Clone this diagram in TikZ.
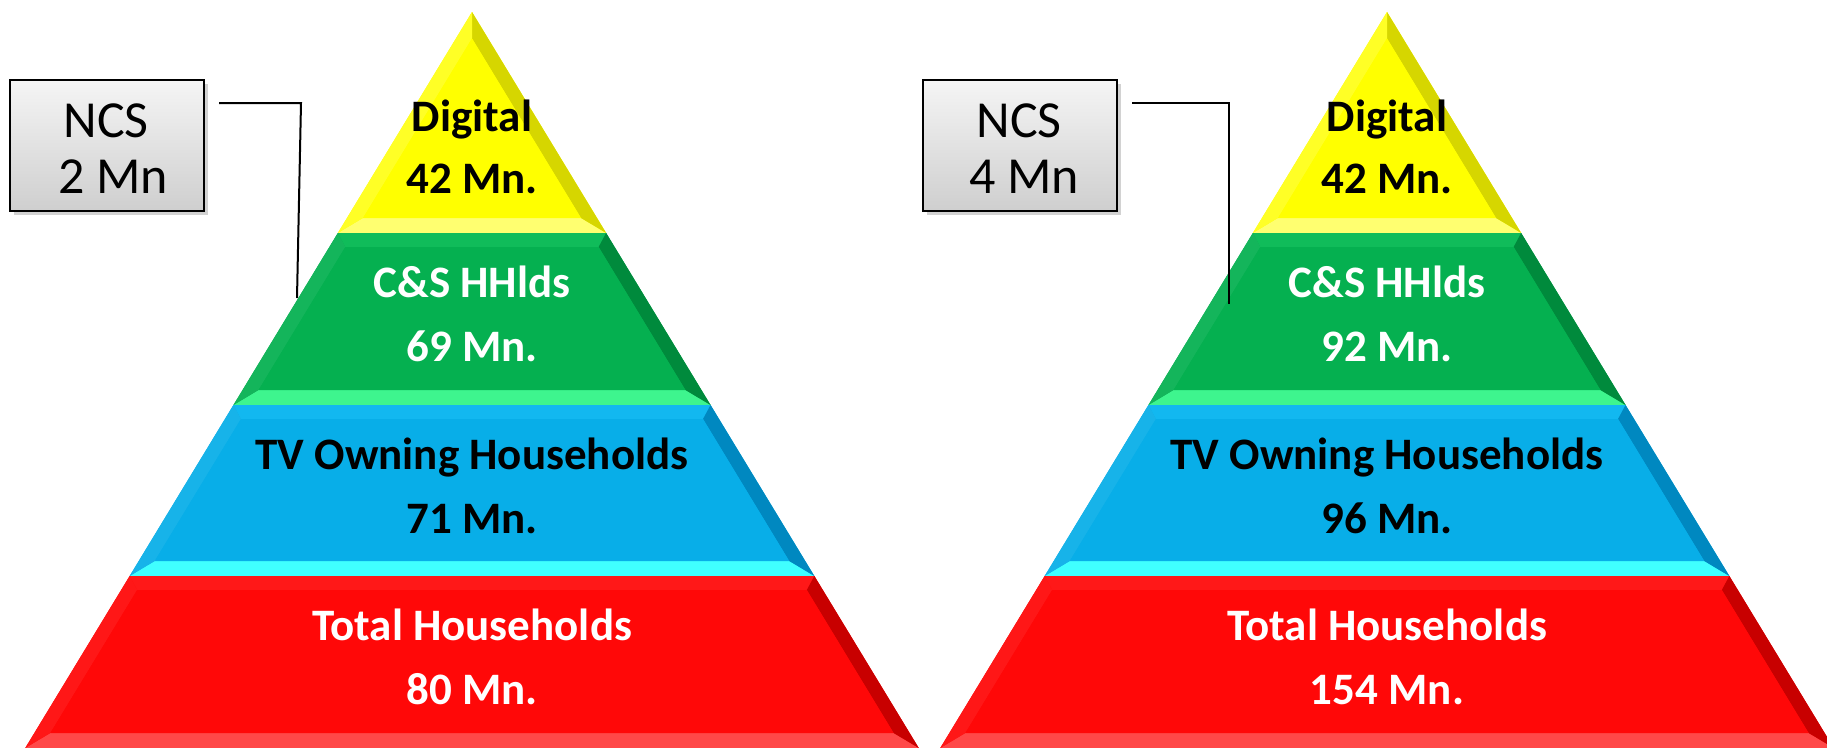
\documentclass[tikz,border=0pt]{standalone}
\usepackage{fontspec}
\setmainfont{Carlito}
\usetikzlibrary{shadows}
\definecolor{ylmain}{HTML}{FFFF00}
\definecolor{yllight}{HTML}{FFFF70}
\definecolor{yldark}{HTML}{D6D600}
\definecolor{yltop}{HTML}{F4F400}
\definecolor{grmain}{HTML}{05B050}
\definecolor{grlight}{HTML}{3EF58E}
\definecolor{grdark}{HTML}{008A3C}
\definecolor{grtop}{HTML}{10BC5A}
\definecolor{blmain}{HTML}{08AEE8}
\definecolor{bllight}{HTML}{40FFFF}
\definecolor{bldark}{HTML}{0088C0}
\definecolor{bltop}{HTML}{12B8F0}
\definecolor{rdmain}{HTML}{FF0808}
\definecolor{rdlight}{HTML}{FF4848}
\definecolor{rddark}{HTML}{C80000}
\definecolor{rdtop}{HTML}{FF1818}
\newcommand\tierdraw[8]{% #1 cx, #2 top, #3 bottom, #4 main, #5 bottom light, #6 right dark, #7 top, #8 left
  \pgfmathsetmacro\tA{(#2-12)*0.607}
  \pgfmathsetmacro\tB{(#3-12)*0.607}
  \pgfmathsetmacro\iT{max(#2+14,12+16/0.607)}
  \pgfmathsetmacro\iB{#3-15}
  \pgfmathsetmacro\iA{max((\iT-12)*0.607-16,0)}
  \pgfmathsetmacro\iW{(\iB-12)*0.607-16}
  \fill[#4] (#1-\tA,#2) -- (#1+\tA,#2) -- (#1+\tB,#3) -- (#1-\tB,#3) -- cycle;
  \fill[#7] (#1-\tA,#2) -- (#1+\tA,#2) -- (#1+\iA,\iT) -- (#1-\iA,\iT) -- cycle;
  \fill[#5] (#1-\tB,#3) -- (#1+\tB,#3) -- (#1+\iW,\iB) -- (#1-\iW,\iB) -- cycle;
  \fill[#6] (#1+\tA,#2) -- (#1+\tB,#3) -- (#1+\iW,\iB) -- (#1+\iA,\iT) -- cycle;
  \fill[#8] (#1-\tA,#2) -- (#1-\tB,#3) -- (#1-\iW,\iB) -- (#1-\iA,\iT) -- cycle;
  \fill[#4] (#1-\iA,\iT) -- (#1+\iA,\iT) -- (#1+\iW,\iB) -- (#1-\iW,\iB) -- cycle;
}
\newcommand\pyramid[1]{%
  \tierdraw{#1}{12}{233}{ylmain}{yllight}{yldark}{yltop}{ylmain!85!white}
  \tierdraw{#1}{233}{405}{grmain}{grlight}{grdark}{grtop}{grmain!94!white}
  \tierdraw{#1}{405}{576}{blmain}{bllight}{bldark}{bltop}{blmain!94!white}
  \tierdraw{#1}{576}{748}{rdmain}{rdlight}{rddark}{rdtop}{rdmain!94!white}
}
\begin{document}
\begin{tikzpicture}[x=1pt,y=-1pt,
  tiertext/.style={font=\bfseries\fontsize{45}{45}\selectfont, inner sep=0pt, anchor=base},
  darktext/.style={tiertext, text=black},
  lighttext/.style={tiertext, text=white},
  ncsbox/.style={draw=black, line width=2pt, top color=gray!8, bottom color=gray!38,
    minimum width=194pt, minimum height=131pt, inner sep=0pt,
    drop shadow={shadow xshift=4pt, shadow yshift=-4pt, opacity=0.35}},
  ncstext/.style={font=\fontsize{52}{52}\selectfont, inner sep=0pt, anchor=base},
  connector/.style={draw=black, line width=2pt}]
\useasboundingbox (0,0) rectangle (1827,747);
\clip (0,0) rectangle (1827,747);
\fill[white] (0,0) rectangle (1827,747);

% left pyramid
\pyramid{472}
\node[darktext] (dL) at (472,131) {Digital};
\node[darktext] (dLn) at (472,193) {42 Mn.};
\node[lighttext] (cL) at (472,297) {C\&S HHlds};
\node[lighttext] (cLn) at (472,361) {69 Mn.};
\node[darktext] (tL) at (472,469) {TV Owning Households};
\node[darktext] (tLn) at (472,533) {71 Mn.};
\node[lighttext] (hL) at (472,640) {Total Households};
\node[lighttext] (hLn) at (472,704) {80 Mn.};

% right pyramid
\pyramid{1387}
\node[darktext] (dR) at (1387,131) {Digital};
\node[darktext] (dRn) at (1387,193) {42 Mn.};
\node[lighttext] (cR) at (1387,297) {C\&S HHlds};
\node[lighttext] (cRn) at (1387,361) {92 Mn.};
\node[darktext] (tR) at (1387,469) {TV Owning Households};
\node[darktext] (tRn) at (1387,533) {96 Mn.};
\node[lighttext] (hR) at (1387,640) {Total Households};
\node[lighttext] (hRn) at (1387,704) {154 Mn.};

% NCS boxes
\node[ncsbox] (ncsL) at (107,145.5) {};
\node[ncstext] (ncsLa) at (106,137) {NCS};
\node[ncstext] (ncsLb) at (113,193) {2 Mn};
\node[ncsbox] (ncsR) at (1019.5,145.5) {};
\node[ncstext] (ncsRa) at (1019,137) {NCS};
\node[ncstext] (ncsRb) at (1024,193) {4 Mn};

% connectors
\coordinate (aL1) at (219,103);
\coordinate (aL2) at (301,103);
\coordinate (aL3) at (297,298);
\draw[connector] (aL1) -- (aL2) -- (aL3);
\coordinate (aR1) at (1132,103);
\coordinate (aR2) at (1229,103);
\coordinate (aR3) at (1229,304);
\draw[connector] (aR1) -- (aR2) -- (aR3);
\end{tikzpicture}
\end{document}
